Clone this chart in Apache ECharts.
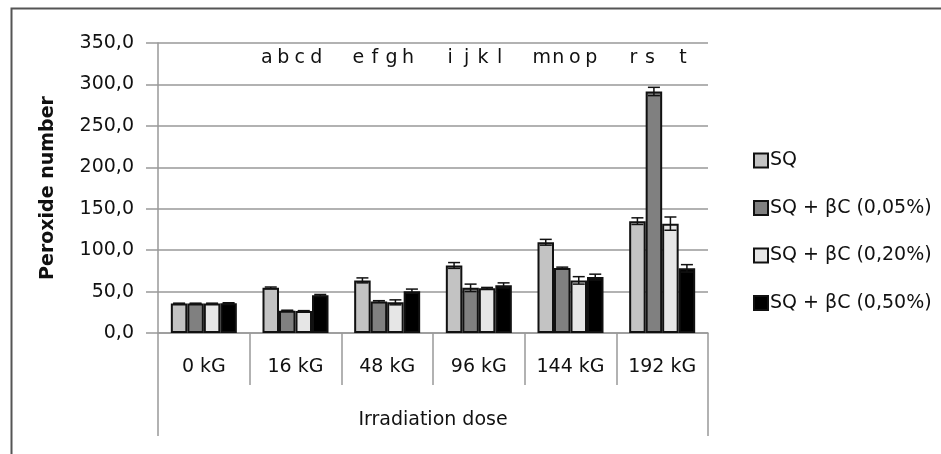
<!DOCTYPE html>
<html>
<head>
<meta charset="utf-8">
<script src="https://cdn.jsdelivr.net/npm/echarts@6/dist/echarts.min.js"></script>
<style>
  html, body { margin: 0; padding: 0; background: #fff; }
  #main { width: 941px; height: 454px; }
</style>
</head>
<body>
<div id="main"></div>
<script>
var doses = ['0 kG', '16 kG', '48 kG', '96 kG', '144 kG', '192 kG']
var names = ['SQ', 'SQ + βC (0,05%)', 'SQ + βC (0,20%)', 'SQ + βC (0,50%)']
var colors = ['#c3c3c3', '#808080', '#e6e6e6', '#000000']

// values
var sq     = [35.5, 54.5, 63.5, 81.5, 109.5, 135]
var bc005  = [35.5, 27.0, 38.0, 54.5, 78.5, 291.5]
var bc020  = [35.5, 26.5, 37.0, 54.0, 63.5, 132]
var bc050  = [36.0, 45.5, 50.5, 57.5, 67.5, 78]

var errSq    = [0.5, 1, 3, 3.5, 3.5, 4]
var err005   = [0.5, 0.5, 1, 4.5, 1, 5]
var err020   = [0.5, 0.5, 3, 1, 4.5, 8]
var err050   = [0.5, 1, 2.5, 3, 3.5, 4.5]

// significance letters over the bars
var letSq  = ['', 'a', 'e', 'i', 'm', 'r']
var let005 = ['', 'b', 'f', 'j', 'n', 's']
var let020 = ['', 'c', 'g', 'k', 'o', '']
var let050 = ['', 'd', 'h', 'l', 'p', 't']

var values = [sq, bc005, bc020, bc050]
var errs = [errSq, err005, err020, err050]
var letters = [letSq, let005, let020, let050]

var FONT = 'DejaVu Sans'
var FS = 19
var catGap = 0.28
var letterY = 332

function fmt(v) {
    return v.toFixed(1).replace('.', ',')
}

var series = []
names.forEach(function (n, i) {
    series.push({
        name: n,
        type: 'bar',
        data: values[i],
        barGap: 0,
        barCategoryGap: (catGap * 100) + '%',
        itemStyle: { color: colors[i], borderColor: '#111', borderWidth: 2 }
    })
})

// error bars + letters, one custom series per group
names.forEach(function (n, i) {
    series.push({
        type: 'custom',
        silent: true,
        z: 5,
        data: values[i].map(function (v, k) { return [k, v, errs[i][k]] }),
        renderItem: function (params, api) {
            var k = api.value(0)
            var cw = api.size([1, 0])[0]
            var bw = cw * (1 - catGap) / 4
            var off = (i - 1.5) * bw
            var c = api.coord([k, api.value(1)])
            var x = c[0] + off
            var hi = api.coord([k, api.value(1) + api.value(2)])[1]
            var lo = api.coord([k, api.value(1) - api.value(2)])[1]
            var lt = api.coord([k, letterY])[1]
            var half = 6
            var st = { stroke: '#111', lineWidth: 1.5 }
            return {
                type: 'group',
                children: [
                    { type: 'line', shape: { x1: x, y1: hi, x2: x, y2: lo }, style: st },
                    { type: 'line', shape: { x1: x - half, y1: hi, x2: x + half, y2: hi }, style: st },
                    { type: 'line', shape: { x1: x - half, y1: lo, x2: x + half, y2: lo }, style: st },
                    {
                        type: 'text',
                        style: {
                            x: x - 4, y: lt, text: letters[i][k],
                            font: FS + 'px "' + FONT + '"', fill: '#111',
                            align: 'center', verticalAlign: 'middle'
                        }
                    }
                ]
            }
        }
    })
})

var chart = echarts.init(document.getElementById('main'))
chart.setOption({
    backgroundColor: '#fff',
    animation: false,
    textStyle: { fontFamily: FONT },
    graphic: [{
        type: 'rect',
        left: 9, top: 6,
        shape: { width: 1000, height: 500 },
        style: { fill: 'none', stroke: '#555', lineWidth: 2 },
        z: -1
    }],
    grid: { left: 158, right: 233, top: 43, bottom: 121 },
    legend: {
        orient: 'vertical',
        left: 748, top: 146,
        itemWidth: 14, itemHeight: 14, itemGap: 28.5,
        icon: 'rect',
        data: names,
        textStyle: { fontSize: FS, color: '#111', fontFamily: FONT, padding: [0, 0, 0, -3] }
    },
    xAxis: [{
        type: 'category',
        data: doses,
        position: 'bottom',
        axisLine: { show: true, lineStyle: { color: '#999', width: 1.5 } },
        axisTick: { show: true, length: 52, interval: 0, lineStyle: { color: '#999', width: 1.5 } },
        axisLabel: { margin: 25, fontSize: FS, color: '#111', interval: 0 }
    }, {
        type: 'category',
        data: ['Irradiation dose'],
        position: 'bottom',
        axisLine: { show: false },
        axisTick: { show: true, length: 103, lineStyle: { color: '#999', width: 1.5 } },
        axisLabel: { margin: 78, fontSize: FS, color: '#111' }
    }],
    yAxis: {
        type: 'value',
        min: 0, max: 350, interval: 50,
        name: 'Peroxide number',
        nameLocation: 'middle',
        nameGap: 100,
        nameTextStyle: { fontSize: FS, fontWeight: 'bold', color: '#111' },
        axisLine: { show: true, lineStyle: { color: '#999', width: 1.5 } },
        axisTick: { show: true, length: 12, lineStyle: { color: '#999', width: 1.5 } },
        axisLabel: { margin: 24, fontSize: FS, color: '#111', formatter: fmt },
        splitLine: { lineStyle: { color: '#999', width: 1.5 } }
    },
    series: series
})
</script>
</body>
</html>
